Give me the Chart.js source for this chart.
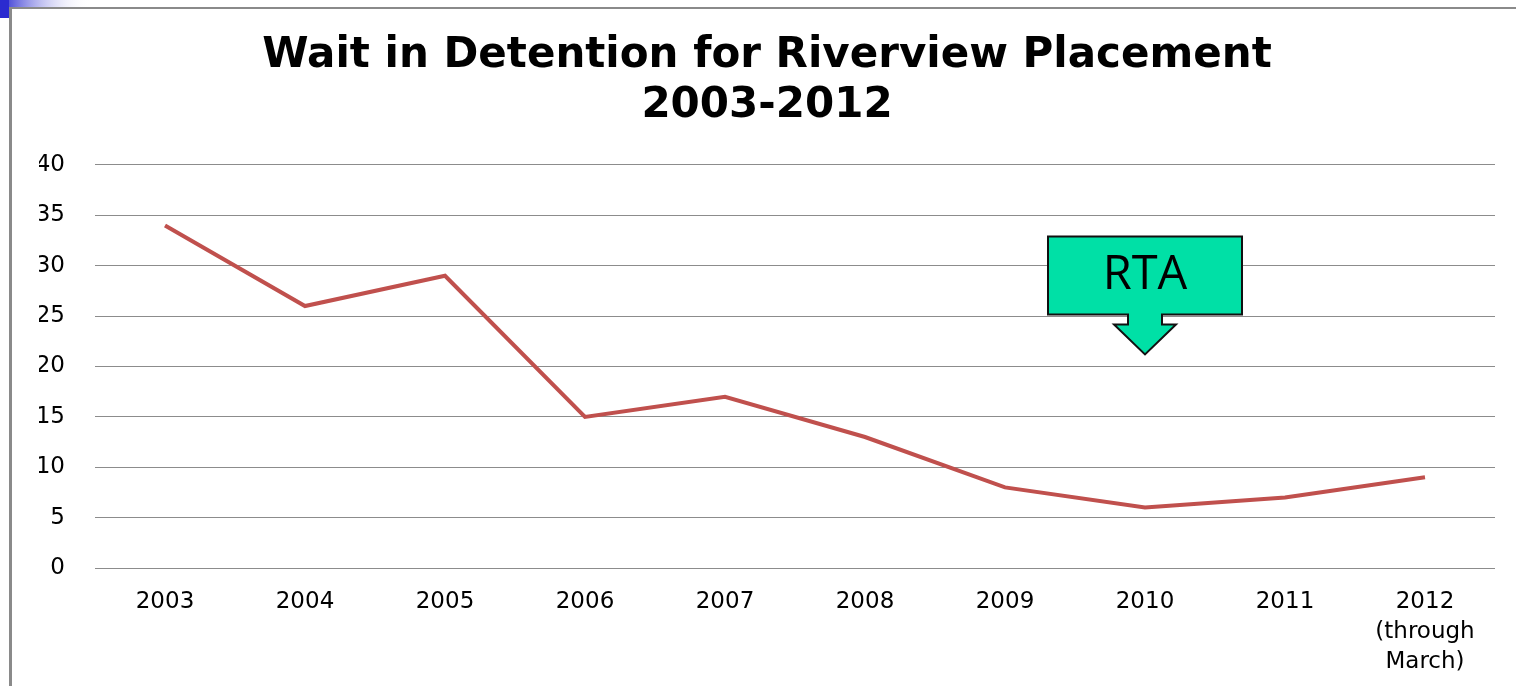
<!DOCTYPE html>
<html>
<head>
<meta charset="utf-8">
<script src="https://cdn.jsdelivr.net/npm/chart.js@4.4.0/dist/chart.umd.min.js"></script>
<style>
  html, body { margin: 0; padding: 0; background: #ffffff; }
  #wrap { width: 1516px; height: 686px; position: relative; }
</style>
</head>
<body>
<div id="wrap"><canvas id="c" width="1516" height="686"></canvas></div>
<script>
// ---- Data ----
const categories = ['2003', '2004', '2005', '2006', '2007', '2008', '2009', '2010', '2011', '2012 (through March)'];
const xTickLabels = ['2003', '2004', '2005', '2006', '2007', '2008', '2009', '2010', '2011', ['2012', '(through', 'March)']];
const waitValues = [34, 26, 29, 15, 17, 13, 8, 6, 7, 9];
const yTickMin = 0;
const yTickMax = 40;
const yTickStep = 5;
const titleLines = ['Wait in Detention for Riverview Placement', '2003-2012'];
const annotationText = 'RTA';
const annotationCategory = '2010';
const annotationPointsTo = 21.2;

// ---- Plugins ----
const framePlugin = {
  id: 'frame',
  beforeDraw(chart) {
    const ctx = chart.ctx;
    ctx.save();
    ctx.fillStyle = '#ffffff';
    ctx.fillRect(0, 0, chart.width, chart.height);
    const g = ctx.createLinearGradient(0, 0, 90, 0);
    g.addColorStop(0, '#2b2bd0');
    g.addColorStop(1, 'rgba(255,255,255,0)');
    ctx.fillStyle = g;
    ctx.fillRect(0, 0, 90, 7);
    ctx.fillStyle = '#2b2bd0';
    ctx.fillRect(0, 0, 9, 18);
    ctx.fillStyle = '#8a8a8a';
    ctx.fillRect(9, 7, chart.width - 9, 2);
    ctx.fillRect(9, 7, 3, chart.height - 7);
    ctx.restore();
  }
};

const arrowPlugin = {
  id: 'rtaArrow',
  afterDatasetsDraw(chart) {
    const xs = chart.scales.x, ys = chart.scales.y;
    const idx = categories.indexOf(annotationCategory);
    const tx = xs.getPixelForValue(idx);
    const ty = ys.getPixelForValue(annotationPointsTo);
    const ctx = chart.ctx;
    ctx.save();
    const L = tx - 97, R = tx + 97, T = ty - 118, B = ty - 40;
    const sw = 17, ww = 31, sb = ty - 30;
    ctx.beginPath();
    ctx.moveTo(L, T);
    ctx.lineTo(R, T);
    ctx.lineTo(R, B);
    ctx.lineTo(tx + sw, B);
    ctx.lineTo(tx + sw, sb);
    ctx.lineTo(tx + ww, sb);
    ctx.lineTo(tx, ty);
    ctx.lineTo(tx - ww, sb);
    ctx.lineTo(tx - sw, sb);
    ctx.lineTo(tx - sw, B);
    ctx.lineTo(L, B);
    ctx.closePath();
    ctx.fillStyle = '#00e0a6';
    ctx.fill();
    ctx.lineWidth = 2;
    ctx.strokeStyle = '#111111';
    ctx.stroke();
    ctx.fillStyle = '#000000';
    ctx.font = '47px "Open Sans", sans-serif';
    ctx.textAlign = 'center';
    ctx.textBaseline = 'middle';
    ctx.fillText(annotationText, tx, (T + B) / 2);
    ctx.restore();
  }
};

new Chart(document.getElementById('c'), {
  type: 'line',
  data: {
    labels: xTickLabels,
    datasets: [{
      label: 'Wait',
      data: waitValues,
      borderColor: '#c0504d',
      backgroundColor: '#c0504d',
      borderWidth: 4,
      pointRadius: 0,
      pointHoverRadius: 0,
      tension: 0,
      fill: false
    }]
  },
  options: {
    responsive: false,
    animation: false,
    devicePixelRatio: 1,
    layout: { padding: { left: 39, right: 21, top: 0, bottom: 0 } },
    plugins: {
      legend: { display: false },
      tooltip: { enabled: false },
      title: {
        display: true,
        text: titleLines,
        color: '#000000',
        font: { family: 'DejaVu Sans', size: 42, weight: 'bold', lineHeight: 1.19 },
        padding: { top: 31, bottom: 34 }
      }
    },
    scales: {
      x: {
        offset: true,
        grid: { display: false },
        border: { display: false },
        ticks: {
          color: '#000000',
          font: { family: 'DejaVu Sans', size: 23, lineHeight: 1.3 },
          padding: 11,
          maxRotation: 0,
          autoSkip: false
        },
        afterFit(scale) { scale.height = 118; }
      },
      y: {
        min: yTickMin,
        max: yTickMax,
        grid: { color: '#8c8c8c', lineWidth: 1, drawTicks: false },
        border: { display: false },
        ticks: {
          stepSize: yTickStep,
          color: '#000000',
          font: { family: 'DejaVu Sans', size: 23 },
          padding: 30
        },
        afterFit(scale) { scale.width = 56; }
      }
    }
  },
  plugins: [framePlugin, arrowPlugin]
});
</script>
</body>
</html>
